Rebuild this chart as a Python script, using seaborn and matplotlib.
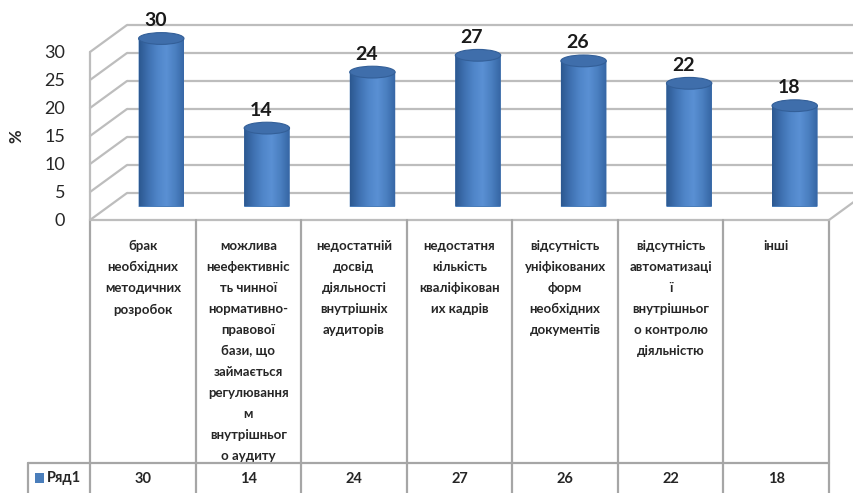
import numpy as np
import pandas as pd
import matplotlib
matplotlib.use("Agg")
import matplotlib.pyplot as plt
import matplotlib.transforms as mtransforms
from matplotlib.patches import Ellipse, PathPatch, Rectangle
from matplotlib.path import Path
from matplotlib.colors import LinearSegmentedColormap
import seaborn as sns

# ---------------- data ----------------
categories = [
    "брак\nнеобхідних\nметодичних\nрозробок",
    "можлива\nнеефективніс\nть чинної\nнормативно-\nправової\nбази, що\nзаймається\nрегулювання\nм\nвнутрішньог\nо аудиту",
    "недостатній\nдосвід\nдіяльності\nвнутрішніх\nаудиторів",
    "недостатня\nкількість\nкваліфікован\nих кадрів",
    "відсутність\nуніфікованих\nформ\nнеобхідних\nдокументів",
    "відсутність\nавтоматизаці\nї\nвнутрішньог\nо контролю\nдіяльністю",
    "інші",
]
values = [30, 14, 24, 27, 26, 22, 18]
series_name = "Ряд1"
yticks = [0, 5, 10, 15, 20, 25, 30]
ylabel = "%"

sns.set_theme(style="white")
plt.rcParams["font.family"] = ["Lato", "DejaVu Sans"]

W, H = 854, 493
fig = plt.figure(figsize=(W / 100, H / 100), dpi=100)
fig.patch.set_facecolor("white")

def px_rect(left, top, right, bottom):
    return [left / W, 1 - bottom / H, (right - left) / W, (bottom - top) / H]

# front plane
FL, FR, FT, FB = 90, 829, 52, 220
DX, DY = 37, 27  # depth offset (px)

axb = fig.add_axes(px_rect(FL + DX, FT - DY, FR + DX, FB - DY))
ax = fig.add_axes(px_rect(FL, FT, FR, FB))
axm = fig.add_axes(px_rect(FL + DX / 2, FT - DY / 2, FR + DX / 2, FB - DY / 2))

n = len(values)
for a in (axb, ax, axm):
    a.set_xlim(-0.5, n - 0.5)
    a.set_ylim(0, 30)
    a.patch.set_alpha(0)
    for s in a.spines.values():
        s.set_visible(False)
    a.set_xticks([])
    a.set_yticks([])

grid_c = "#bdbdbd"
table_c = "#a6a6a6"

# back wall gridlines (extend past figure edge)
for v in yticks:
    axb.plot([-0.5, n + 0.5], [v, v], color=grid_c, lw=1.6, clip_on=False, solid_capstyle="butt")

# side-wall diagonals and floor edges (display coords from both planes)
disp_lines = []
for v in yticks:
    p1 = ax.transData.transform((-0.5, v))
    p2 = axb.transData.transform((-0.5, v))
    disp_lines.append((p1, p2))
p1 = ax.transData.transform((n - 0.5, 0))
p2 = axb.transData.transform((n - 0.5, 0))
disp_lines.append((p1, p2))
for p1, p2 in disp_lines:
    fig.add_artist(plt.Line2D([p1[0], p2[0]], [p1[1], p2[1]], transform=None,
                              color=grid_c, lw=1.6))

# front left vertical edge
ax.plot([-0.5, -0.5], [0, 30], color=grid_c, lw=1.6, clip_on=False)

# y tick labels on the front plane
ax.set_yticks(yticks)
ax.set_yticklabels([str(t) for t in yticks], fontsize=13, color="#262626")
ax.tick_params(axis="y", length=0, pad=18)
ax.set_ylabel(ylabel, fontsize=12, fontweight="bold", color="#262626")
ax.yaxis.set_label_coords(-0.089, 0.5)

# ---------------- cylinders ----------------
df = pd.DataFrame({"cat": [str(i) for i in range(n)], "val": values})
sns.barplot(data=df, x="cat", y="val", ax=axm, color="#4a7ebb", width=0.43,
            saturation=1, edgecolor="none")
axm.set_xlim(-0.5, n - 0.5)
axm.set_ylim(0, 30)
axm.set_xlabel("")
axm.set_ylabel("")
axm.set_xticks([])
axm.set_yticks([])

cmap = LinearSegmentedColormap.from_list(
    "cyl", ["#2c5890", "#3e70b0", "#4f85c8", "#5a90d4", "#4a7fc0", "#3565a3"])
grad = np.linspace(0, 1, 200).reshape(1, -1)
eh = 2.1
bars = list(axm.patches)
for bar, v in zip(bars, values):
    x = bar.get_x()
    w = bar.get_width()
    h = bar.get_height()
    cx = x + w / 2
    t = np.linspace(np.pi, 2 * np.pi, 60)
    arc = np.column_stack([cx + w / 2 * np.cos(t), eh / 2 * np.sin(t)])
    verts = np.vstack([[[x, h]], arc, [[x + w, h]], [[x, h]]])
    codes = [Path.MOVETO] + [Path.LINETO] * (len(verts) - 2) + [Path.CLOSEPOLY]
    body = PathPatch(Path(verts, codes), facecolor="#4a7ebb", edgecolor="none", zorder=2)
    axm.add_patch(body)
    im = axm.imshow(grad, cmap=cmap, extent=[x, x + w, -eh / 2, h], aspect="auto",
                    zorder=3, interpolation="bilinear")
    im.set_clip_path(body)
    cap = Ellipse((cx, h), w, eh, facecolor="#3f6eab", edgecolor="#335f98", lw=0.8, zorder=4)
    axm.add_patch(cap)
    cap.set_clip_on(False)
    axm.annotate(str(v), (cx, h), xytext=(-6, 18), textcoords="offset pixels",
                 ha="center", va="center", fontsize=14, fontweight="bold",
                 color="#1a1a1a", annotation_clip=False)
    bar.set_visible(False)

axm.set_xlim(-0.5, n - 0.5)
axm.set_ylim(0, 30)

# ---------------- data table ----------------
tb = mtransforms.blended_transform_factory(ax.transData, fig.transFigure)

def fy(ypx):
    return 1 - ypx / H

row_top = FB
row_split = 463
row_bot = 495
# floor front edge / table top
ax.plot([-0.5, n - 0.5], [fy(row_top)] * 2, transform=tb, color=grid_c, lw=1.6, clip_on=False)
for i in range(n + 1):
    xb = i - 0.5
    ax.plot([xb, xb], [fy(row_top), fy(row_bot)], transform=tb, color=table_c, lw=1.6,
            clip_on=False)
# series row line including legend cell
fig.add_artist(plt.Line2D([28 / W, ax.transData.transform((n - 0.5, 0))[0] / W],
                          [fy(row_split)] * 2, transform=fig.transFigure,
                          color=table_c, lw=1.6))
fig.add_artist(plt.Line2D([28 / W, 28 / W], [fy(row_split), fy(row_bot)],
                          transform=fig.transFigure, color=table_c, lw=1.6))

for i, (c, v) in enumerate(zip(categories, values)):
    ax.text(i, fy(240), c, transform=tb, ha="center", va="top", fontsize=9.5,
            fontweight="bold", color="#262626", linespacing=1.9, clip_on=False)
    ax.text(i, fy(479), str(v), transform=tb, ha="center", va="center", fontsize=10.5,
            fontweight="bold", color="#262626", clip_on=False)

fig.add_artist(Rectangle((35 / W, fy(483)), 9 / W, 10 / H, transform=fig.transFigure,
                         facecolor="#4a7ebb", edgecolor="none"))
fig.text(47 / W, fy(478), series_name, ha="left", va="center", fontsize=10.5,
         fontweight="bold", color="#262626")

fig.savefig("out.png", dpi=100, facecolor="white")
